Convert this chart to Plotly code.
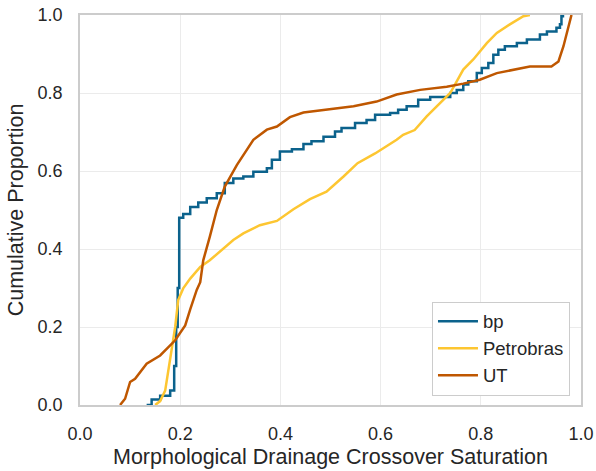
import plotly.graph_objects as go

# ECDF curves (x = saturation, y = cumulative proportion)
bp_x = [0.133, 0.143, 0.16, 0.18, 0.188, 0.192, 0.195, 0.198, 0.206, 0.22, 0.236, 0.253, 0.273,
        0.289, 0.306, 0.326, 0.346, 0.373, 0.383, 0.399, 0.423, 0.446, 0.462, 0.486, 0.509,
        0.522, 0.549, 0.572, 0.589, 0.619, 0.635, 0.652, 0.675, 0.699, 0.739, 0.752, 0.765,
        0.775, 0.792, 0.802, 0.815, 0.825, 0.835, 0.848, 0.872, 0.892, 0.918, 0.932, 0.951,
        0.958, 0.961, 0.964]
bp_y = [0.0, 0.014, 0.024, 0.037, 0.10, 0.2, 0.3, 0.48, 0.49, 0.508, 0.519, 0.53, 0.543,
        0.569, 0.581, 0.586, 0.598, 0.607, 0.629, 0.650, 0.656, 0.669, 0.676, 0.688, 0.701,
        0.710, 0.723, 0.731, 0.744, 0.749, 0.757, 0.766, 0.783, 0.790, 0.800, 0.808, 0.822,
        0.830, 0.851, 0.864, 0.877, 0.898, 0.911, 0.920, 0.928, 0.937, 0.950, 0.958, 0.967,
        0.976, 0.997, 1.0]

petro_x = [0.15, 0.16, 0.17, 0.18, 0.19, 0.196, 0.206, 0.22, 0.24, 0.259, 0.286, 0.306, 0.326,
           0.359, 0.393, 0.426, 0.459, 0.492, 0.526, 0.554, 0.589, 0.612, 0.632, 0.645, 0.668,
           0.692, 0.712, 0.739, 0.765, 0.785, 0.812, 0.832, 0.858, 0.885, 0.898]
petro_y = [0.0, 0.01, 0.037, 0.114, 0.2, 0.269, 0.299, 0.324, 0.354, 0.371, 0.402, 0.423, 0.44,
           0.461, 0.472, 0.502, 0.528, 0.547, 0.586, 0.62, 0.645, 0.663, 0.68, 0.693, 0.705,
           0.74, 0.765, 0.80, 0.86, 0.886, 0.928, 0.954, 0.976, 0.997, 1.0]

ut_x = [0.08, 0.09, 0.1, 0.11, 0.133, 0.16, 0.19, 0.21, 0.22, 0.233, 0.24, 0.246, 0.259, 0.273,
        0.289, 0.313, 0.346, 0.373, 0.393, 0.419, 0.446, 0.499, 0.546, 0.592, 0.632, 0.679,
        0.732, 0.765, 0.798, 0.832, 0.865, 0.898, 0.941, 0.955, 0.965, 0.975, 0.981]
ut_y = [0.0, 0.016, 0.059, 0.067, 0.106, 0.127, 0.166, 0.204, 0.245, 0.295, 0.315, 0.371, 0.431,
        0.5, 0.56, 0.615, 0.68, 0.706, 0.714, 0.738, 0.75, 0.759, 0.766, 0.778, 0.796, 0.808,
        0.816, 0.824, 0.834, 0.851, 0.86, 0.868, 0.868, 0.881, 0.92, 0.971, 1.0]

tick_vals = [0.0, 0.2, 0.4, 0.6, 0.8, 1.0]

series = [
    ("bp", bp_x, bp_y, "#0b628c", "hv"),
    ("Petrobras", petro_x, petro_y, "#fdc631", "linear"),
    ("UT", ut_x, ut_y, "#bf5700", "linear"),
]

fig = go.Figure()
for name, xs, ys, color, shape in series:
    fig.add_trace(go.Scatter(x=xs, y=ys, mode="lines", name=name,
                             line=dict(color=color, width=2.5, shape=shape)))

font_family = "Liberation Sans, Arial, sans-serif"
axis_common = dict(
    range=[0, 1], tickvals=tick_vals, tickformat=".1f",
    showgrid=True, gridcolor="#ebebeb", gridwidth=1,
    zeroline=False, showline=True, mirror=True, linecolor="#cccccc", linewidth=1.5,
    ticks="", tickfont=dict(size=18, color="#262626", family=font_family),
    ticklabelstandoff=12, automargin=False,
)

fig.update_layout(
    width=596, height=471,
    margin=dict(l=80, r=15, t=15, b=66),
    plot_bgcolor="white", paper_bgcolor="white",
    font=dict(family=font_family, color="#262626"),
    xaxis=dict(**axis_common,
               title=dict(text="Morphological Drainage Crossover Saturation",
                          font=dict(size=21.5, color="#262626"), standoff=6)),
    yaxis=dict(**axis_common,
               title=dict(text="Cumulative Proportion",
                          font=dict(size=21.5, color="#262626"), standoff=8)),
    legend=dict(x=0.978, y=0.024, xanchor="right", yanchor="bottom",
                bgcolor="white", bordercolor="#cccccc", borderwidth=1,
                font=dict(size=18.5, color="#262626"), itemwidth=40),
    showlegend=True,
)

fig.write_html("out.html")
